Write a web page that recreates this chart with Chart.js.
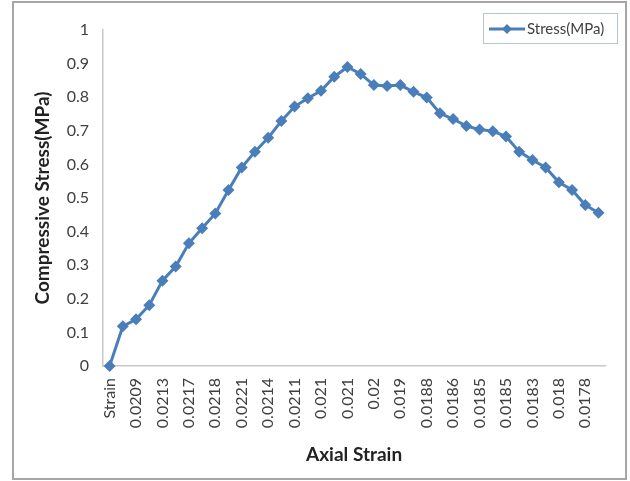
<!DOCTYPE html>
<html lang="en">
<head>
    <meta charset="UTF-8">
    <title>Compressive Stress vs Axial Strain</title>
    <script src="https://cdn.jsdelivr.net/npm/chart.js"></script>
    <style>
        body { margin: 0; background: #fff; }
    </style>
</head>
<body>
    <canvas id="chartStress" width="630" height="481"></canvas>

    <script>
        // categorias del eje X (solo se leen las pares en la imagen)
        const strainLabels = [
            'Strain', '', '0.0209', '', '0.0213', '', '0.0217', '', '0.0218', '',
            '0.0221', '', '0.0214', '', '0.0211', '', '0.021', '', '0.021', '',
            '0.02', '', '0.019', '', '0.0188', '', '0.0186', '', '0.0185', '',
            '0.0185', '', '0.0183', '', '0.018', '', '0.0178', ''
        ];

        const stressValues = [
            0, 0.118, 0.139, 0.181, 0.254, 0.296, 0.365, 0.410, 0.454, 0.524,
            0.591, 0.638, 0.679, 0.729, 0.772, 0.797, 0.819, 0.861, 0.890, 0.869,
            0.836, 0.833, 0.836, 0.816, 0.799, 0.752, 0.735, 0.714, 0.704, 0.699,
            0.683, 0.638, 0.613, 0.591, 0.547, 0.524, 0.479, 0.456
        ];

        const yTicks = [0, 0.1, 0.2, 0.3, 0.4, 0.5, 0.6, 0.7, 0.8, 0.9, 1];

        const blue = '#4a7ebb';
        const fontName = 'Lato, "Open Sans", sans-serif';

        // marco y leyenda dibujados a mano
        const framePlugin = {
            id: 'frame',
            beforeDraw(chart) {
                const ctx = chart.ctx;
                ctx.save();
                ctx.fillStyle = '#fff';
                ctx.fillRect(0, 0, chart.width, chart.height);
                ctx.strokeStyle = '#a6a6a6';
                ctx.lineWidth = 2;
                ctx.strokeRect(13, 2, 613, 477);
                ctx.restore();
            },
            afterDraw(chart) {
                const ctx = chart.ctx;
                const ds = chart.data.datasets[0];
                ctx.save();
                ctx.strokeStyle = '#b8c4d6';
                ctx.lineWidth = 1;
                ctx.strokeRect(483.5, 13.5, 134, 30);
                ctx.strokeStyle = ds.borderColor;
                ctx.lineWidth = 3;
                ctx.beginPath();
                ctx.moveTo(489, 29);
                ctx.lineTo(525, 29);
                ctx.stroke();
                ctx.fillStyle = ds.borderColor;
                ctx.beginPath();
                ctx.moveTo(507, 24);
                ctx.lineTo(512, 29);
                ctx.lineTo(507, 34);
                ctx.lineTo(502, 29);
                ctx.closePath();
                ctx.fill();
                ctx.fillStyle = '#404040';
                ctx.font = '15px ' + fontName;
                ctx.textBaseline = 'middle';
                ctx.fillText(ds.label, 527, 29);
                ctx.restore();
            }
        };

        const ctx = document.getElementById('chartStress').getContext('2d');

        new Chart(ctx, {
            type: 'line',
            data: {
                labels: strainLabels,
                datasets: [{
                    label: 'Stress(MPa)',
                    data: stressValues,
                    borderColor: blue,
                    backgroundColor: blue,
                    borderWidth: 3,
                    tension: 0,
                    clip: false,
                    pointStyle: 'rectRot',
                    pointRadius: 6,
                    pointBorderWidth: 0
                }]
            },
            options: {
                responsive: false,
                animation: false,
                layout: {
                    padding: { left: 27, right: 23, top: 30, bottom: 11 }
                },
                plugins: {
                    legend: { display: false },
                    tooltip: { enabled: false }
                },
                scales: {
                    x: {
                        offset: true,
                        grid: { display: false, drawTicks: false },
                        border: { display: true, color: '#c8c8c8', width: 1.5 },
                        ticks: {
                            autoSkip: false,
                            minRotation: 90,
                            maxRotation: 90,
                            padding: 12,
                            color: '#404040',
                            font: { family: fontName, size: 16 }
                        },
                        title: {
                            display: true,
                            text: 'Axial Strain',
                            color: '#222',
                            font: { family: fontName, size: 19, weight: 'bold' }
                        },
                        afterFit(scale) { scale.height = 104; }
                    },
                    y: {
                        min: 0,
                        max: 1,
                        grid: { display: false, drawTicks: false },
                        border: { display: true, color: '#c8c8c8', width: 1.5 },
                        afterBuildTicks(scale) {
                            scale.ticks = yTicks.map(v => ({ value: v }));
                        },
                        ticks: {
                            padding: 14,
                            color: '#404040',
                            font: { family: fontName, size: 16 },
                            callback: v => String(v)
                        },
                        title: {
                            display: true,
                            text: 'Compressive Stress(MPa)',
                            color: '#222',
                            font: { family: fontName, size: 19, weight: 'bold' }
                        },
                        afterFit(scale) { scale.width = 76; }
                    }
                }
            },
            plugins: [framePlugin]
        });
    </script>
</body>
</html>
